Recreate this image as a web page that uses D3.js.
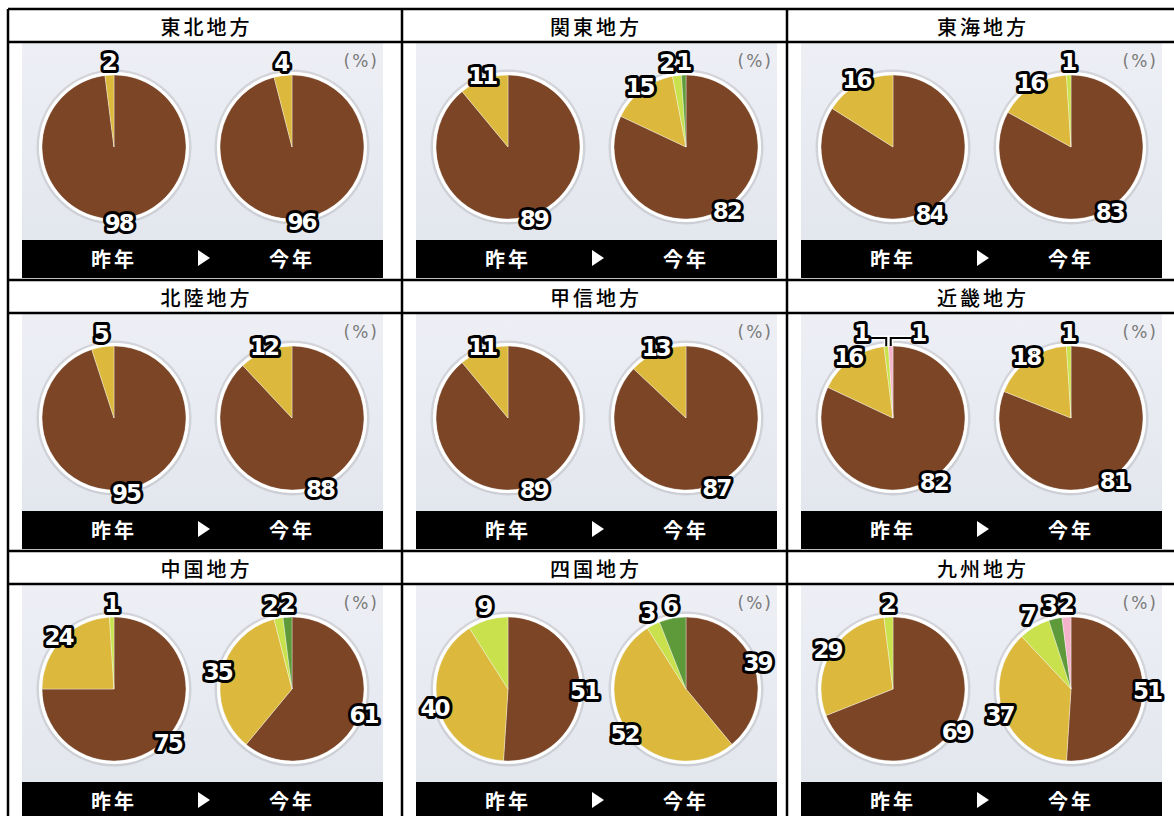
<!DOCTYPE html>
<html>
<head>
<meta charset="utf-8">
<script src="https://cdn.jsdelivr.net/npm/d3@7"></script>
<style>
  body { margin: 0; background: #fff; }
</style>
</head>
<body>
<div id="chart"></div>
<script>
// data (percent)
const regions = ['東北地方', '関東地方', '東海地方', '北陸地方', '甲信地方', '近畿地方', '中国地方', '四国地方', '九州地方'];
// series order: brown, yellow, light green, dark green, pink
const lastYear = [
  [98, 2, 0, 0, 0],
  [89, 11, 0, 0, 0],
  [84, 16, 0, 0, 0],
  [95, 5, 0, 0, 0],
  [89, 11, 0, 0, 0],
  [82, 16, 1, 0, 1],
  [75, 24, 1, 0, 0],
  [51, 40, 9, 0, 0],
  [69, 29, 2, 0, 0]
];
const thisYear = [
  [96, 4, 0, 0, 0],
  [82, 15, 2, 1, 0],
  [83, 16, 1, 0, 0],
  [88, 12, 0, 0, 0],
  [87, 13, 0, 0, 0],
  [81, 18, 1, 0, 0],
  [61, 35, 2, 2, 0],
  [39, 52, 3, 6, 0],
  [51, 37, 7, 3, 2]
];
const seriesColors = ['#7b4526', '#dcb93c', '#c9e14c', '#5e9a3a', '#f3b4cb'];
const yearLabels = ['昨年', '今年'];
const unitLabel = '(%)';

const width = 1174;
const height = 816;

const svg = d3.select("#chart").append("svg")
    .attr("width", width)
    .attr("height", height);

// grid of cells
const colEdges = [8, 402, 787, 1176];
const rowY = d3.scaleLinear().domain([0, 3]).range([9, 822]);
const headH = 33;

const defs = svg.append("defs");
const bg = defs.append("linearGradient")
    .attr("id", "panelBg")
    .attr("x1", "0%").attr("y1", "0%")
    .attr("x2", "0%").attr("y2", "100%");
bg.append("stop").attr("offset", "0%").attr("stop-color", "#edeff5");
bg.append("stop").attr("offset", "100%").attr("stop-color", "#e1e5ec");

const r = 72;
const pie = d3.pie().sort(null).value(d => d);
const arc = d3.arc().innerRadius(0).outerRadius(r);

// label positions: centroid angle just outside the rim, small slices pushed apart
function labelPositions(arcs) {
  const labs = arcs.filter(a => a.data > 0).map(a => {
    const mid = (a.startAngle + a.endAngle) / 2;
    const rr = r + (a.data < 10 ? 13 : 4);
    return { v: a.data, mid: mid, x: rr * Math.sin(mid), y: -rr * Math.cos(mid), leader: 0 };
  });
  for (let i = 1; i < labs.length; i++) {
    const p = labs[i - 1], q = labs[i];
    const dist = Math.hypot(q.x - p.x, q.y - p.y);
    if (dist < 7) {
      p.leader = -1; q.leader = 1;
      p.x = p.x - 24; q.x = q.x + 28;
      p.y = q.y = -(r + 13);
    } else if (dist < 17) {
      p.x = q.x - 17;
    }
  }
  return labs;
}

function drawPie(g, values) {
  const arcs = pie(values);
  g.append("circle")
      .attr("r", r + 4)
      .attr("fill", "none")
      .attr("stroke", "rgba(0,0,0,0.10)")
      .attr("stroke-width", 3);
  g.selectAll("path.slice")
    .data(arcs.filter(a => a.data > 0))
    .enter().append("path")
      .attr("class", "slice")
      .attr("d", arc)
      .attr("fill", d => seriesColors[d.index])
      .attr("stroke", "rgba(255,255,255,0.45)")
      .attr("stroke-width", 0.8);
  g.append("circle")
      .attr("r", r + 1.5)
      .attr("fill", "none")
      .attr("stroke", "#fff")
      .attr("stroke-width", 3);

  const labs = labelPositions(arcs);
  labs.filter(l => l.leader !== 0).forEach(l => {
    const rx = r * Math.sin(l.mid);
    const ry = -r * Math.cos(l.mid);
    const hy = -(r + 8);
    const ex = l.leader < 0 ? l.x + 6 : l.x - 6;
    const lp = `M${rx},${ry}V${hy}H${ex}`;
    g.append("path").attr("d", lp).attr("fill", "none")
        .attr("stroke", "#fff").attr("stroke-width", 5);
    g.append("path").attr("d", lp).attr("fill", "none")
        .attr("stroke", "#000").attr("stroke-width", 2);
  });
  g.selectAll("text.val")
    .data(labs)
    .enter().append("text")
      .attr("class", "val")
      .attr("x", d => d.x)
      .attr("y", d => d.y)
      .attr("text-anchor", "middle")
      .attr("dominant-baseline", "central")
      .attr("font-family", "DejaVu Sans")
      .attr("font-weight", "bold")
      .attr("font-size", 23)
      .attr("letter-spacing", -2)
      .attr("fill", "#fff")
      .attr("stroke", "#000")
      .attr("stroke-width", 6)
      .attr("stroke-linejoin", "round")
      .attr("paint-order", "stroke")
      .text(d => d.v);
}

regions.forEach((name, i) => {
  const c = i % 3, row = Math.floor(i / 3);
  const x0 = colEdges[c], x1 = colEdges[c + 1];
  const top = rowY(row), bottom = rowY(row + 1);

  // header
  svg.append("text")
      .attr("x", (x0 + x1) / 2 + 1.5)
      .attr("y", top + headH / 2 + 1)
      .attr("text-anchor", "middle")
      .attr("dominant-baseline", "central")
      .attr("font-family", "Noto Sans CJK JP")
      .attr("font-size", 20)
      .attr("font-weight", 500)
      .attr("letter-spacing", 3)
      .attr("fill", "#000")
      .text(name);

  // panel picture
  const imgX = x0 + 14, imgW = 361;
  const imgTop = top + headH + 1, imgH = bottom - imgTop - 2;
  const p = svg.append("g").attr("transform", `translate(${imgX},${imgTop})`);
  p.append("rect")
      .attr("width", imgW).attr("height", imgH)
      .attr("fill", "url(#panelBg)");

  p.append("text")
      .attr("x", imgW - 4).attr("y", 18)
      .attr("text-anchor", "end")
      .attr("dominant-baseline", "central")
      .attr("font-family", "DejaVu Sans")
      .attr("font-size", 17)
      .attr("letter-spacing", 2)
      .attr("fill", "#7a7a7a")
      .text(unitLabel);

  // bottom bar
  const barTop = 197;
  p.append("rect")
      .attr("y", barTop).attr("width", imgW).attr("height", imgH - barTop)
      .attr("fill", "#000");
  const barMid = barTop + 18;
  [92, 270].forEach((cx, k) => {
    p.append("text")
        .attr("x", cx).attr("y", barMid)
        .attr("text-anchor", "middle")
        .attr("dominant-baseline", "central")
        .attr("font-family", "Noto Sans CJK JP")
        .attr("font-weight", "bold")
        .attr("font-size", 20)
        .attr("letter-spacing", 3)
        .attr("fill", "#fff")
        .text(yearLabels[k]);
  });
  p.append("path")
      .attr("transform", `translate(181,${barMid})`)
      .attr("d", "M-5,-8L7,0L-5,8Z")
      .attr("fill", "#fff");

  drawPie(p.append("g").attr("transform", `translate(92,104)`), lastYear[i]);
  drawPie(p.append("g").attr("transform", `translate(270,104)`), thisYear[i]);
});

// table rules
const rules = svg.append("g").attr("stroke", "#000").attr("stroke-width", 2.5);
[0, 1, 2].forEach(row => {
  rules.append("line").attr("x1", 8).attr("x2", width).attr("y1", rowY(row)).attr("y2", rowY(row));
  rules.append("line").attr("x1", 8).attr("x2", width).attr("y1", rowY(row) + headH).attr("y2", rowY(row) + headH);
});
colEdges.forEach(x => {
  rules.append("line").attr("x1", x).attr("x2", x).attr("y1", rowY(0)).attr("y2", height);
});
</script>
</body>
</html>
